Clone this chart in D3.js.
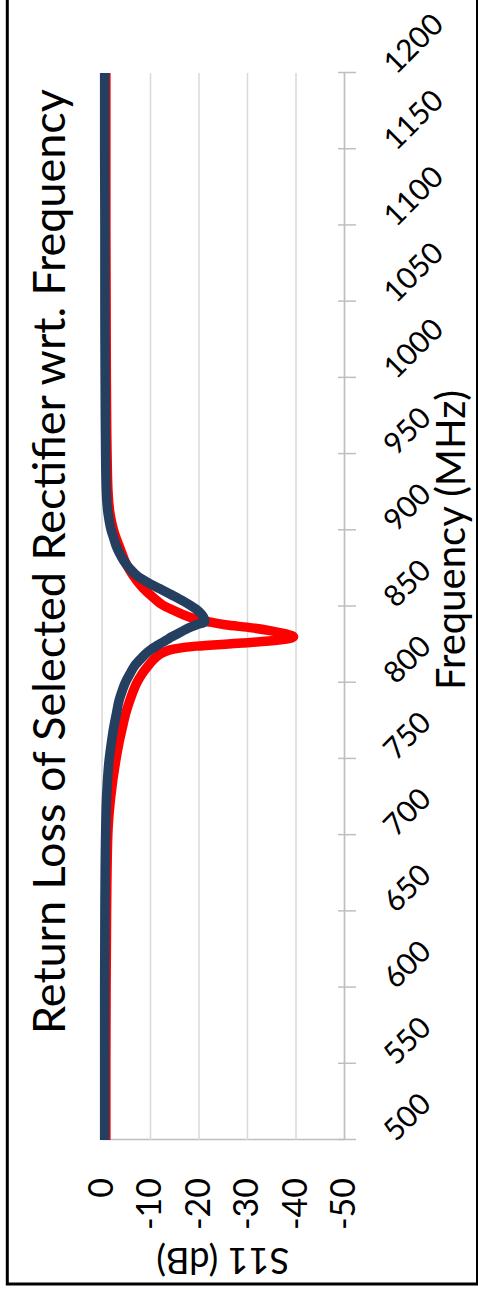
<!DOCTYPE html>
<html>
<head>
<meta charset="utf-8">
<script src="https://cdn.jsdelivr.net/npm/d3@7"></script>
<style>
  html, body { margin: 0; padding: 0; background: #fff; }
  svg { display: block; }
</style>
</head>
<body>
<svg id="chart" width="478" height="1294"></svg>
<script>
// Frequency sweep (MHz) and return loss S11 (dB) for the two traces
const freqMHz = [500, 550, 600, 650, 700, 725, 750, 762, 772, 780, 788, 795, 800, 806, 811, 816, 820, 822, 824, 826, 828, 830, 832, 834, 836, 838, 840, 842, 845, 848, 851, 855, 858, 862, 866, 870, 875, 880, 885, 890, 895, 900, 910, 925, 950, 1000, 1050, 1100, 1150, 1200];

const s11Red = [-0.9, -0.9, -0.95, -1.05, -1.3, -1.9, -3.0, -3.7, -4.4, -5.0, -5.8, -6.6, -7.3, -8.4, -9.6, -11.0, -12.8, -14.8, -19.5, -29.0, -36.5, -39.6, -38.0, -35.0, -31.0, -25.5, -22.0, -19.2, -16.6, -14.5, -12.6, -11.0, -9.9, -8.6, -7.5, -6.6, -5.6, -4.8, -4.2, -3.6, -3.0, -2.5, -1.8, -1.35, -1.15, -1.0, -0.95, -0.9, -0.9, -0.9];

const s11Navy = [-0.65, -0.65, -0.65, -0.7, -0.85, -1.05, -1.6, -2.1, -2.6, -3.1, -3.6, -4.3, -4.9, -5.9, -6.8, -8.2, -9.5, -10.3, -11.3, -12.3, -13.4, -14.4, -15.6, -16.8, -18.0, -19.6, -21.3, -21.2, -20.6, -19.6, -18.2, -16.0, -14.2, -11.8, -9.4, -7.4, -5.8, -4.6, -3.7, -3.0, -2.5, -2.0, -1.4, -1.0, -0.85, -0.75, -0.7, -0.7, -0.65, -0.65];

const freqTicks = [500, 550, 600, 650, 700, 750, 800, 850, 900, 950, 1000, 1050, 1100, 1150, 1200];
const dbTicks = [0, -10, -20, -30, -40, -50];

const titleText = "Return Loss of Selected Rectifier wrt. Frequency";
const xTitleText = "Frequency (MHz)";
const yTitleText = "S11 (dB)";

const FONT = "Lato, 'Open Sans', sans-serif";

// The chart is laid out landscape (W x H) and turned a quarter turn
// counter-clockwise to fill the portrait page.
const W = 1294, H = 478;
const svg = d3.select("#chart");

// outer frame
svg.append("rect")
  .attr("x", 7.3).attr("y", -10)
  .attr("width", 470.2).attr("height", 1294)
  .attr("fill", "none").attr("stroke", "#000").attr("stroke-width", 3);

const g = svg.append("g").attr("transform", `translate(0,${W}) rotate(-90)`);

const x = d3.scaleLinear().domain([500, 1200]).range([154, 1221]);
const y = d3.scaleLinear().domain([0, -50]).range([101.5, 344]);

// value axis with full-width gridlines
const yAxis = g.append("g")
  .attr("transform", `translate(${x(500)},0)`)
  .call(d3.axisLeft(y).tickValues(dbTicks).tickSize(-(x(1200) - x(500))).tickSizeOuter(0).tickPadding(38).tickFormat(d => String(d)));
yAxis.select(".domain").attr("stroke", "#BFBFBF").attr("stroke-width", 1.5);
yAxis.selectAll(".tick line").attr("stroke", "#D9D9D9").attr("stroke-width", 1.5);
yAxis.selectAll(".tick text")
  .attr("font-family", FONT).attr("font-size", 34).attr("fill", "#000");

// frequency axis with slanted labels
const xAxis = g.append("g")
  .attr("transform", `translate(0,${y(-50)})`)
  .call(d3.axisBottom(x).tickValues(freqTicks).tickSize(12).tickSizeOuter(0).tickFormat(d => String(d)));
xAxis.select(".domain").attr("stroke", "#BFBFBF").attr("stroke-width", 1.5);
xAxis.selectAll(".tick line").attr("stroke", "#BFBFBF").attr("stroke-width", 1.5).attr("y1", -6);
xAxis.selectAll(".tick text")
  .attr("x", null).attr("y", null).attr("dy", null)
  .attr("transform", "translate(-3,52) rotate(45)")
  .attr("text-anchor", "start")
  .attr("font-family", FONT).attr("font-size", 30).attr("fill", "#000");

// traces
const line = d3.line()
  .x(d => x(d[0]))
  .y(d => y(d[1]))
  .curve(d3.curveMonotoneX);

const traces = [
  { values: s11Red, color: "#FF0000" },
  { values: s11Navy, color: "#243F60" }
];
g.append("g").selectAll("path")
  .data(traces)
  .join("path")
  .attr("d", t => line(d3.zip(freqMHz, t.values)))
  .attr("fill", "none")
  .attr("stroke", t => t.color)
  .attr("stroke-width", 9.5)
  .attr("stroke-linejoin", "round")
  .attr("stroke-linecap", "butt");

// scale a label's font so it spans the given length
function fitLength(sel, target) {
  const len = sel.node().getComputedTextLength();
  const fs = parseFloat(sel.attr("font-size"));
  sel.attr("font-size", (fs * target / len).toFixed(2));
}

const title = g.append("text")
  .attr("x", 732.5).attr("y", 65)
  .attr("text-anchor", "middle")
  .attr("font-family", FONT).attr("font-size", 42).attr("fill", "#000")
  .text(titleText);
fitLength(title, 945);

const xTitle = g.append("text")
  .attr("x", 754).attr("y", 465)
  .attr("text-anchor", "middle")
  .attr("font-family", FONT).attr("font-size", 36).attr("fill", "#000")
  .text(xTitleText);
fitLength(xTitle, 300);

const yTitle = g.append("text")
  .attr("transform", `translate(46,${(y(0) + y(-50)) / 2}) rotate(-90)`)
  .attr("text-anchor", "middle")
  .attr("font-family", FONT).attr("font-size", 36).attr("fill", "#000")
  .text(yTitleText);
fitLength(yTitle, 133);
</script>
</body>
</html>
